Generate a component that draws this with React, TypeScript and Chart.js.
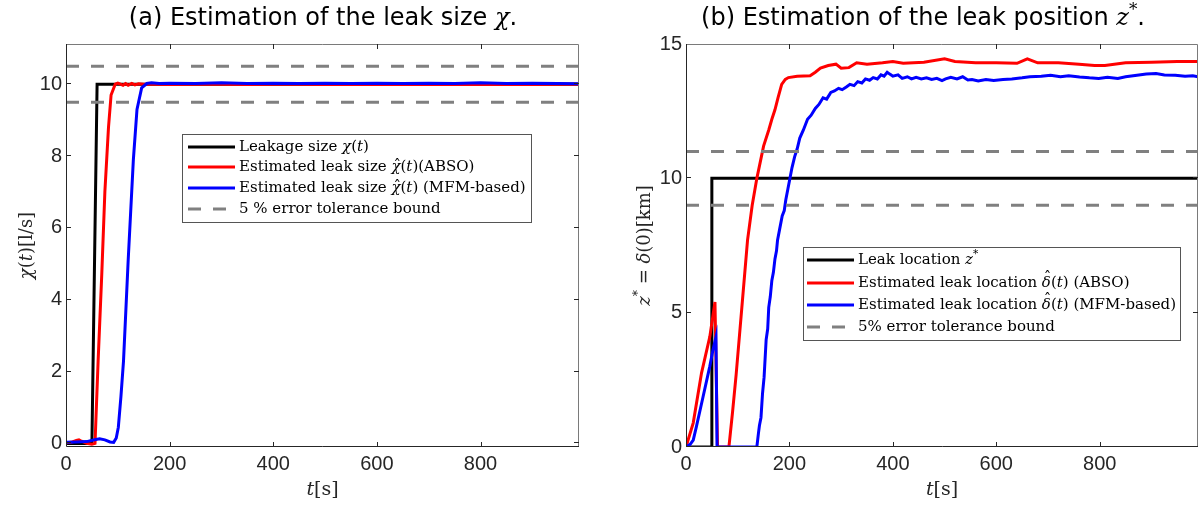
import React, { useEffect, useRef } from "react";
import { Chart, registerables } from "chart.js";
Chart.register(...registerables);

// ---------- shared ticks ----------
const timeTicks = [0, 200, 400, 600, 800];
const sizeTicks = [0, 2, 4, 6, 8, 10];
const posTicks = [0, 5, 10, 15];

// ---------- (a) leak size ----------
const sizeTrueT = [0, 50, 60, 990];
const sizeTrueV = [0, 0, 10, 10];

const sizeAbsoT = [0, 10, 20, 25, 30, 40, 50, 56, 62, 69, 75, 82, 87, 95, 100, 105, 110, 115, 120, 127, 133, 140, 150, 170, 200, 250, 300, 350, 400, 450, 500, 550, 600, 650, 700, 750, 800, 850, 900, 950, 990];
const sizeAbsoV = [0.02, 0.03, 0.08, 0.1, 0.06, 0.0, -0.02, 0.0, 2.3, 4.7, 7.0, 8.8, 9.7, 10.0, 10.03, 10.0, 9.97, 10.02, 9.97, 10.02, 9.98, 10.01, 10.0, 10.0, 9.99, 10.0, 10.0, 9.99, 10.0, 10.0, 9.99, 10.0, 9.99, 10.0, 9.99, 10.0, 9.99, 10.0, 9.99, 10.0, 10.0];

const sizeMfmT = [0, 20, 40, 55, 65, 75, 85, 92, 97, 101, 106, 111, 120, 130, 137, 146, 156, 165, 180, 200, 250, 300, 350, 400, 450, 500, 550, 600, 650, 700, 750, 800, 850, 900, 950, 990];
const sizeMfmV = [0.03, 0.04, 0.05, 0.1, 0.13, 0.1, 0.04, 0.03, 0.15, 0.45, 1.3, 2.3, 5.1, 7.9, 9.3, 9.9, 10.02, 10.04, 10.02, 10.03, 10.02, 10.04, 10.02, 10.03, 10.02, 10.03, 10.02, 10.03, 10.02, 10.03, 10.02, 10.04, 10.02, 10.03, 10.02, 10.01];

const sizeBoundT = [0, 990];
const sizeUpperV = [10.5, 10.5];
const sizeLowerV = [9.5, 9.5];

// ---------- (b) leak position ----------
const posTrueT = [0, 50, 50, 990];
const posTrueV = [0, 0, 10, 10];

const posAbsoT = [0, 14, 30, 46, 56, 61, 83, 90, 97, 108, 119, 128, 137, 150, 160, 166, 172, 178, 185, 192, 198, 215, 240, 250, 260, 275, 290, 300, 315, 330, 350, 380, 400, 420, 460, 500, 520, 560, 600, 640, 660, 680, 720, 760, 790, 810, 850, 900, 950, 990];
const posAbsoV = [0, 0.9, 2.75, 4.1, 5.4, 0, 0, 1.3, 2.7, 5.2, 7.7, 9.0, 10.0, 11.2, 11.8, 12.2, 12.55, 13.0, 13.5, 13.68, 13.75, 13.8, 13.82, 13.95, 14.1, 14.2, 14.25, 14.1, 14.12, 14.3, 14.25, 14.3, 14.35, 14.28, 14.32, 14.45, 14.35, 14.3, 14.3, 14.28, 14.45, 14.3, 14.3, 14.25, 14.2, 14.2, 14.3, 14.32, 14.35, 14.35];

const posMfmT = [0, 8, 14, 20, 33, 46, 52, 58, 60, 137, 140, 142, 145, 148, 151, 155, 158, 160, 163, 166, 169, 172, 175, 177, 181, 186, 190, 193, 197, 201, 205, 210, 215, 220, 227, 235, 242, 250, 257, 265, 272, 280, 287, 295, 302, 310, 317, 325, 332, 340, 347, 355, 362, 370, 377, 383, 389, 394, 400, 410, 418, 428, 436, 445, 455, 465, 475, 485, 495, 502, 512, 524, 535, 545, 553, 565, 580, 595, 613, 630, 650, 665, 687, 705, 724, 740, 761, 780, 798, 815, 835, 850, 872, 890, 909, 925, 946, 965, 980, 990];
const posMfmV = [0, 0.1, 0.26, 0.75, 1.87, 3.0, 3.6, 4.1, 0, 0, 0.5, 0.8, 1.1, 2.0, 2.6, 4.0, 4.4, 5.2, 5.6, 6.2, 6.5, 7.0, 7.3, 7.7, 8.1, 8.6, 8.8, 9.2, 9.6, 10.0, 10.4, 10.8, 11.1, 11.5, 11.8, 12.2, 12.35, 12.6, 12.75, 13.0, 12.95, 13.2, 13.25, 13.35, 13.3, 13.4, 13.5, 13.45, 13.6, 13.55, 13.7, 13.65, 13.75, 13.7, 13.85, 13.8, 13.95, 13.88, 13.8, 13.85, 13.72, 13.78, 13.7, 13.76, 13.7, 13.74, 13.68, 13.72, 13.64, 13.7, 13.76, 13.7, 13.78, 13.66, 13.68, 13.62, 13.68, 13.64, 13.68, 13.7, 13.74, 13.78, 13.8, 13.84, 13.78, 13.82, 13.77, 13.74, 13.72, 13.76, 13.72, 13.78, 13.84, 13.88, 13.9, 13.85, 13.84, 13.8, 13.82, 13.78];

const posBoundT = [0, 990];
const posUpperV = [11, 11];
const posLowerV = [9, 9];

// ---------- styling ----------
const SERIF = '"DejaVu Serif", serif';
const SANS = '"DejaVu Sans", sans-serif';
const TICKF = '"Liberation Sans", Arial, sans-serif';
const AXC = "#262626";
const BLACK = "#000000";
const RED = "#ff0000";
const BLUE = "#0000ff";
const GRAY = "#808080";
const DASH = [13, 12];

type Seg = { t: string; it?: boolean; sup?: boolean; f?: string; hat?: number };

function segFont(s: Seg, size: number, fam: string) {
  const sz = s.sup ? size * 0.7 : size;
  return `${s.it ? "italic " : ""}${sz}px ${s.f || fam}`;
}

function drawRich(ctx: CanvasRenderingContext2D, segs: Seg[], x: number, y: number, size: number, fam: string, align: "center" | "left", color: string) {
  ctx.save();
  ctx.fillStyle = color;
  ctx.textBaseline = "middle";
  ctx.textAlign = "left";
  const ws = segs.map((s) => {
    ctx.font = segFont(s, size, fam);
    return ctx.measureText(s.t).width;
  });
  const total = ws.reduce((a, b) => a + b, 0);
  let cx = align === "center" ? x - total / 2 : x;
  segs.forEach((s, i) => {
    ctx.font = segFont(s, size, fam);
    ctx.fillText(s.t, cx, s.sup ? y - size * 0.35 : y);
    if (s.hat !== undefined) {
      ctx.font = `${size}px ${s.f || fam}`;
      ctx.textAlign = "center";
      ctx.fillText("ˆ", cx + ws[i] / 2 + size * 0.08, y - size * s.hat);
      ctx.textAlign = "left";
    }
    cx += ws[i];
  });
  ctx.restore();
}

type Series = { t: number[]; v: number[]; color: string; dash?: number[]; order: number };
type LegendItem = { color: string; dash?: number[]; segs: Seg[] };

type Panel = {
  series: Series[];
  yMin: number;
  yMax: number;
  yTicks: number[];
  yAxisWidth: number;
  padRight: number;
  title: Seg[];
  titleX: number;
  yTitle: Seg[];
  yTitleX: number;
  legend: LegendItem[];
  legBox: { x: number; y: number; w: number; h: number };
  legRows: number[];
  legLine: [number, number];
  legTextX: number;
};

const xTitle: Seg[] = [{ t: "t", it: true }, { t: "[s]" }];

function makeDecor(p: Panel) {
  return {
    id: "decor",
    afterDatasetsDraw(chart: any) {
      const ctx: CanvasRenderingContext2D = chart.ctx;
      const a = chart.chartArea;
      const xs = chart.scales.x;
      const ys = chart.scales.y;
      ctx.save();
      // frame
      ctx.lineWidth = 1;
      ctx.strokeStyle = "#7a7a7a";
      ctx.beginPath();
      ctx.moveTo(a.left, a.top + 0.5);
      ctx.lineTo(a.right - 0.5, a.top + 0.5);
      ctx.lineTo(a.right - 0.5, a.bottom);
      ctx.stroke();
      ctx.strokeStyle = AXC;
      ctx.beginPath();
      ctx.moveTo(a.left + 0.5, a.top);
      ctx.lineTo(a.left + 0.5, a.bottom - 0.5);
      ctx.lineTo(a.right, a.bottom - 0.5);
      ctx.stroke();
      // inward ticks
      ctx.strokeStyle = AXC;
      ctx.beginPath();
      timeTicks.forEach((v) => {
        const px = Math.round(xs.getPixelForValue(v)) + 0.5;
        if (px < a.left + 2) return;
        ctx.moveTo(px, a.bottom);
        ctx.lineTo(px, a.bottom - 5);
        ctx.moveTo(px, a.top);
        ctx.lineTo(px, a.top + 5);
      });
      p.yTicks.forEach((v) => {
        const py = Math.round(ys.getPixelForValue(v)) - 0.5;
        if (py < a.top + 2) return;
        ctx.moveTo(a.left, py);
        ctx.lineTo(a.left + 5, py);
        ctx.moveTo(a.right, py);
        ctx.lineTo(a.right - 5, py);
      });
      ctx.stroke();

      // legend
      const b = p.legBox;
      ctx.fillStyle = "#ffffff";
      ctx.fillRect(b.x, b.y, b.w, b.h);
      ctx.strokeStyle = "#555555";
      ctx.lineWidth = 1;
      ctx.strokeRect(b.x + 0.5, b.y + 0.5, b.w, b.h);
      p.legend.forEach((it, i) => {
        const y = p.legRows[i];
        ctx.beginPath();
        ctx.strokeStyle = it.color;
        ctx.lineWidth = 3;
        ctx.setLineDash(it.dash || []);
        ctx.moveTo(p.legLine[0], y);
        ctx.lineTo(p.legLine[1], y);
        ctx.stroke();
        ctx.setLineDash([]);
        drawRich(ctx, it.segs, p.legTextX, y, 15, SERIF, "left", "#000000");
      });

      // titles
      drawRich(ctx, p.title, p.titleX, 19, 24, SANS, "center", "#000000");
      drawRich(ctx, xTitle, (a.left + a.right) / 2, 490, 19, SERIF, "center", AXC);
      ctx.translate(p.yTitleX, (a.top + a.bottom) / 2);
      ctx.rotate(-Math.PI / 2);
      drawRich(ctx, p.yTitle, 0, 0, 18, SERIF, "center", AXC);
      ctx.restore();
    },
  };
}

function makeConfig(p: Panel): any {
  return {
    type: "line",
    data: {
      datasets: p.series.map((s) => ({
        data: s.t.map((t, i) => ({ x: t, y: s.v[i] })),
        borderColor: s.color,
        borderWidth: 3,
        borderDash: s.dash || [],
        pointRadius: 0,
        tension: 0,
        fill: false,
        order: s.order,
      })),
    },
    options: {
      animation: false,
      responsive: false,
      devicePixelRatio: 1,
      layout: { padding: { top: 44, right: p.padRight, left: 0, bottom: 0 } },
      plugins: { legend: { display: false }, tooltip: { enabled: false }, title: { display: false } },
      scales: {
        x: {
          type: "linear",
          min: 0,
          max: 990,
          afterFit: (s: any) => {
            s.height = 60;
          },
          afterBuildTicks: (s: any) => {
            s.ticks = timeTicks.map((v) => ({ value: v }));
          },
          grid: { display: false, drawTicks: false },
          border: { display: false },
          ticks: { font: { family: TICKF, size: 20 }, color: AXC, padding: 5, maxRotation: 0, autoSkip: false },
        },
        y: {
          type: "linear",
          min: p.yMin,
          max: p.yMax,
          afterFit: (s: any) => {
            s.width = p.yAxisWidth;
          },
          afterBuildTicks: (s: any) => {
            s.ticks = p.yTicks.map((v) => ({ value: v }));
          },
          grid: { display: false, drawTicks: false },
          border: { display: false },
          ticks: { font: { family: TICKF, size: 20 }, color: AXC, padding: 4, autoSkip: false },
        },
      },
    },
    plugins: [makeDecor(p)],
  };
}

const panelA: Panel = {
  series: [
    { t: sizeTrueT, v: sizeTrueV, color: BLACK, order: 3 },
    { t: sizeAbsoT, v: sizeAbsoV, color: RED, order: 2 },
    { t: sizeMfmT, v: sizeMfmV, color: BLUE, order: 1 },
    { t: sizeBoundT, v: sizeUpperV, color: GRAY, dash: DASH, order: 0 },
    { t: sizeBoundT, v: sizeLowerV, color: GRAY, dash: DASH, order: 0 },
  ],
  yMin: -0.1,
  yMax: 11.12,
  yTicks: sizeTicks,
  yAxisWidth: 66,
  padRight: 21,
  title: [{ t: "(a) Estimation of the leak size " }, { t: "χ", it: true, f: SERIF }, { t: "." }],
  titleX: 323,
  yTitle: [{ t: "χ", it: true }, { t: "(" }, { t: "t", it: true }, { t: ")[l/s]" }],
  yTitleX: 27,
  legend: [
    { color: BLACK, segs: [{ t: "Leakage size " }, { t: "χ", it: true }, { t: "(" }, { t: "t", it: true }, { t: ")" }] },
    { color: RED, segs: [{ t: "Estimated leak size " }, { t: "χ", it: true, hat: 0.05 }, { t: "(" }, { t: "t", it: true }, { t: ")(ABSO)" }] },
    { color: BLUE, segs: [{ t: "Estimated leak size " }, { t: "χ", it: true, hat: 0.05 }, { t: "(" }, { t: "t", it: true }, { t: ") (MFM-based)" }] },
    { color: GRAY, dash: DASH, segs: [{ t: "5 % error tolerance bound" }] },
  ],
  legBox: { x: 182, y: 134, w: 349, h: 88 },
  legRows: [147, 167, 188, 209],
  legLine: [188, 235],
  legTextX: 239,
};

const panelB: Panel = {
  series: [
    { t: posTrueT, v: posTrueV, color: BLACK, order: 3 },
    { t: posAbsoT, v: posAbsoV, color: RED, order: 2 },
    { t: posMfmT, v: posMfmV, color: BLUE, order: 1 },
    { t: posBoundT, v: posUpperV, color: GRAY, dash: DASH, order: 0 },
    { t: posBoundT, v: posLowerV, color: GRAY, dash: DASH, order: 0 },
  ],
  yMin: 0,
  yMax: 15,
  yTicks: posTicks,
  yAxisWidth: 86,
  padRight: 2,
  title: [{ t: "(b) Estimation of the leak position " }, { t: "z", it: true, f: SERIF }, { t: "*", sup: true, f: SERIF }, { t: "." }],
  titleX: 323,
  yTitle: [{ t: "z", it: true }, { t: "*", sup: true }, { t: " = " }, { t: "δ", it: true }, { t: "(0)[km]" }],
  yTitleX: 45,
  legend: [
    { color: BLACK, segs: [{ t: "Leak location " }, { t: "z", it: true }, { t: "*", sup: true }] },
    { color: RED, segs: [{ t: "Estimated leak location " }, { t: "δ", it: true, hat: 0.3 }, { t: "(" }, { t: "t", it: true }, { t: ") (ABSO)" }] },
    { color: BLUE, segs: [{ t: "Estimated leak location " }, { t: "δ", it: true, hat: 0.3 }, { t: "(" }, { t: "t", it: true }, { t: ") (MFM-based)" }] },
    { color: GRAY, dash: DASH, segs: [{ t: "5% error tolerance bound" }] },
  ],
  legBox: { x: 203, y: 247, w: 377, h: 93 },
  legRows: [260, 283, 305, 327],
  legLine: [207, 254],
  legTextX: 258,
};

function ChartCanvas({ panel, left }: { panel: Panel; left: number }) {
  const ref = useRef<HTMLCanvasElement | null>(null);
  useEffect(() => {
    if (!ref.current) return;
    const chart = new Chart(ref.current, makeConfig(panel));
    return () => chart.destroy();
  }, [panel]);
  return <canvas ref={ref} width={600} height={507} style={{ position: "absolute", left, top: 0, width: 600, height: 507 }} />;
}

export default function App() {
  return (
    <div style={{ position: "fixed", left: 0, top: 0, width: 1200, height: 507, background: "#ffffff", overflow: "hidden" }}>
      <ChartCanvas panel={panelA} left={0} />
      <ChartCanvas panel={panelB} left={600} />
    </div>
  );
}
